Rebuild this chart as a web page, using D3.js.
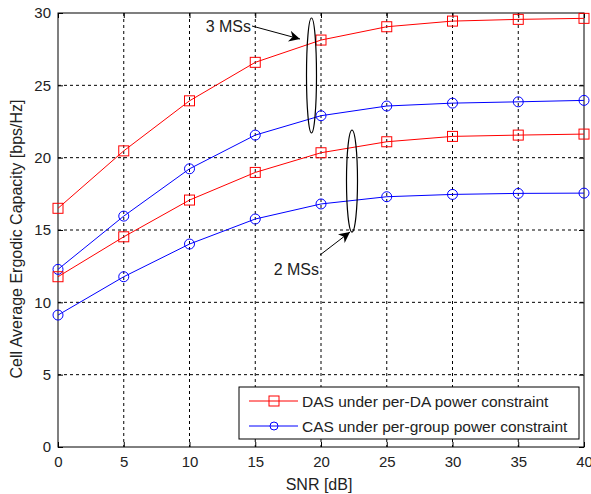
<!DOCTYPE html>
<html><head><meta charset="utf-8">
<script src="https://cdn.jsdelivr.net/npm/d3@7"></script>
<style>body{margin:0;background:#fff}svg{display:block}text{font-family:"Liberation Sans",Arial,sans-serif;fill:#222}</style>
</head><body><svg id="c" width="591" height="494"></svg>
<script>
const snr = [0,5,10,15,20,25,30,35,40];
const das3 = [16.5,20.47,23.93,26.59,28.13,29.05,29.44,29.56,29.63];
const cas3 = [12.28,15.96,19.23,21.56,22.9,23.57,23.77,23.86,23.96];
const das2 = [11.77,14.53,17.07,18.98,20.34,21.1,21.47,21.56,21.63];
const cas2 = [9.12,11.77,14.03,15.76,16.8,17.3,17.46,17.53,17.55];
const xTicks = [0,5,10,15,20,25,30,35,40];
const yTicks = [0,5,10,15,20,25,30];
const legendLabels = ["DAS under per-DA power constraint","CAS under per-group power constraint"];

const svg = d3.select("#c");
const L=58,R=584,T=13,B=447;
const x = d3.scaleLinear().domain([0,40]).range([L,R]);
const y = d3.scaleLinear().domain([0,30]).range([B,T]);

// grid
const g = svg.append("g");
xTicks.slice(1,-1).forEach(t=>g.append("line").attr("x1",x(t)).attr("x2",x(t)).attr("y1",T).attr("y2",B).attr("stroke","#000").attr("stroke-dasharray","3,3"));
yTicks.slice(1,-1).forEach(t=>g.append("line").attr("y1",y(t)).attr("y2",y(t)).attr("x1",L).attr("x2",R).attr("stroke","#000").attr("stroke-dasharray","3,3"));

// axes
const fs="15px";
const ax = svg.append("g").attr("transform",`translate(0,${B})`).call(d3.axisBottom(x).tickValues(xTicks).tickSizeInner(-5).tickSizeOuter(0).tickPadding(9));
const ay = svg.append("g").attr("transform",`translate(${L},0)`).call(d3.axisLeft(y).tickValues(yTicks).tickSizeInner(-5).tickSizeOuter(0).tickPadding(7));
const axt = svg.append("g").attr("transform",`translate(0,${T})`).call(d3.axisTop(x).tickValues(xTicks).tickSizeInner(-5).tickSizeOuter(0).tickFormat(""));
const ayr = svg.append("g").attr("transform",`translate(${R},0)`).call(d3.axisRight(y).tickValues(yTicks).tickSizeInner(-5).tickSizeOuter(0).tickFormat(""));
[ax,ay,axt,ayr].forEach(a=>{a.select(".domain").remove();a.selectAll("line").attr("stroke","#000");a.selectAll("text").style("font-size",fs).style("font-family","'Liberation Sans',Arial,sans-serif").attr("fill","#222");});
svg.append("rect").attr("x",L).attr("y",T).attr("width",R-L).attr("height",B-T).attr("fill","none").attr("stroke","#000");

// labels
svg.append("text").attr("x",319).attr("y",490).attr("text-anchor","middle").style("font-size","16px").text("SNR [dB]");
svg.append("text").attr("transform",`translate(22,${239}) rotate(-90)`).attr("text-anchor","middle").style("font-size","16px").text("Cell Average Ergodic Capacity [bps/Hz]");

const line = d3.line().x((d,i)=>x(snr[i])).y(d=>y(d));
function drawSeries(vals,color,type){
  svg.append("path").datum(vals).attr("d",line).attr("fill","none").attr("stroke",color).attr("stroke-width",1);
  vals.forEach((v,i)=>{
    if(type==="sq") svg.append("rect").attr("x",x(snr[i])-5).attr("y",y(v)-5).attr("width",10).attr("height",10).attr("fill","none").attr("stroke",color);
    else svg.append("circle").attr("cx",x(snr[i])).attr("cy",y(v)).attr("r",5).attr("fill","none").attr("stroke",color);
  });
}
drawSeries(das3,"#ff0000","sq");
drawSeries(cas3,"#0000ff","ci");
drawSeries(das2,"#ff0000","sq");
drawSeries(cas2,"#0000ff","ci");

// annotations: ellipses
function ell(cx,cy,rx,ry){svg.append("ellipse").attr("cx",cx).attr("cy",cy).attr("rx",rx).attr("ry",ry).attr("fill","none").attr("stroke","#000").attr("stroke-width",1.2);}
ell(311.5,75.5,5,57.5);
ell(352,181,5.5,51);
// arrows
svg.append("defs").append("marker").attr("id","ah").attr("viewBox","0 0 10 10").attr("refX",10).attr("refY",5).attr("markerWidth",11).attr("markerHeight",11).attr("markerUnits","userSpaceOnUse").attr("orient","auto")
  .append("path").attr("d","M0,0 L10,5 L0,10 L3,5 Z").attr("fill","#000");
svg.append("line").attr("x1",252).attr("y1",26).attr("x2",300).attr("y2",39).attr("stroke","#000").attr("marker-end","url(#ah)");
svg.append("line").attr("x1",320).attr("y1",255).attr("x2",350).attr("y2",232).attr("stroke","#000").attr("marker-end","url(#ah)");
svg.append("text").attr("x",251).attr("y",32).attr("text-anchor","end").style("font-size","16px").text("3 MSs");
svg.append("text").attr("x",319).attr("y",275).attr("text-anchor","end").style("font-size","16px").text("2 MSs");

// legend
const lg = svg.append("g");
lg.append("rect").attr("x",239).attr("y",387).attr("width",340).attr("height",52).attr("fill","#fff").attr("stroke","#000");
[["#ff0000","sq"],["#0000ff","ci"]].forEach((s,i)=>{
  const yy = 401 + i*25;
  lg.append("line").attr("x1",249).attr("x2",298).attr("y1",yy).attr("y2",yy).attr("stroke",s[0]);
  if(s[1]==="sq") lg.append("rect").attr("x",269).attr("y",yy-5).attr("width",10).attr("height",10).attr("fill","none").attr("stroke",s[0]);
  else lg.append("circle").attr("cx",274).attr("cy",yy).attr("r",4).attr("fill","none").attr("stroke",s[0]);
  lg.append("text").attr("x",302).attr("y",yy+5.5).style("font-size","15.5px").text(legendLabels[i]);
});
</script></body></html>
